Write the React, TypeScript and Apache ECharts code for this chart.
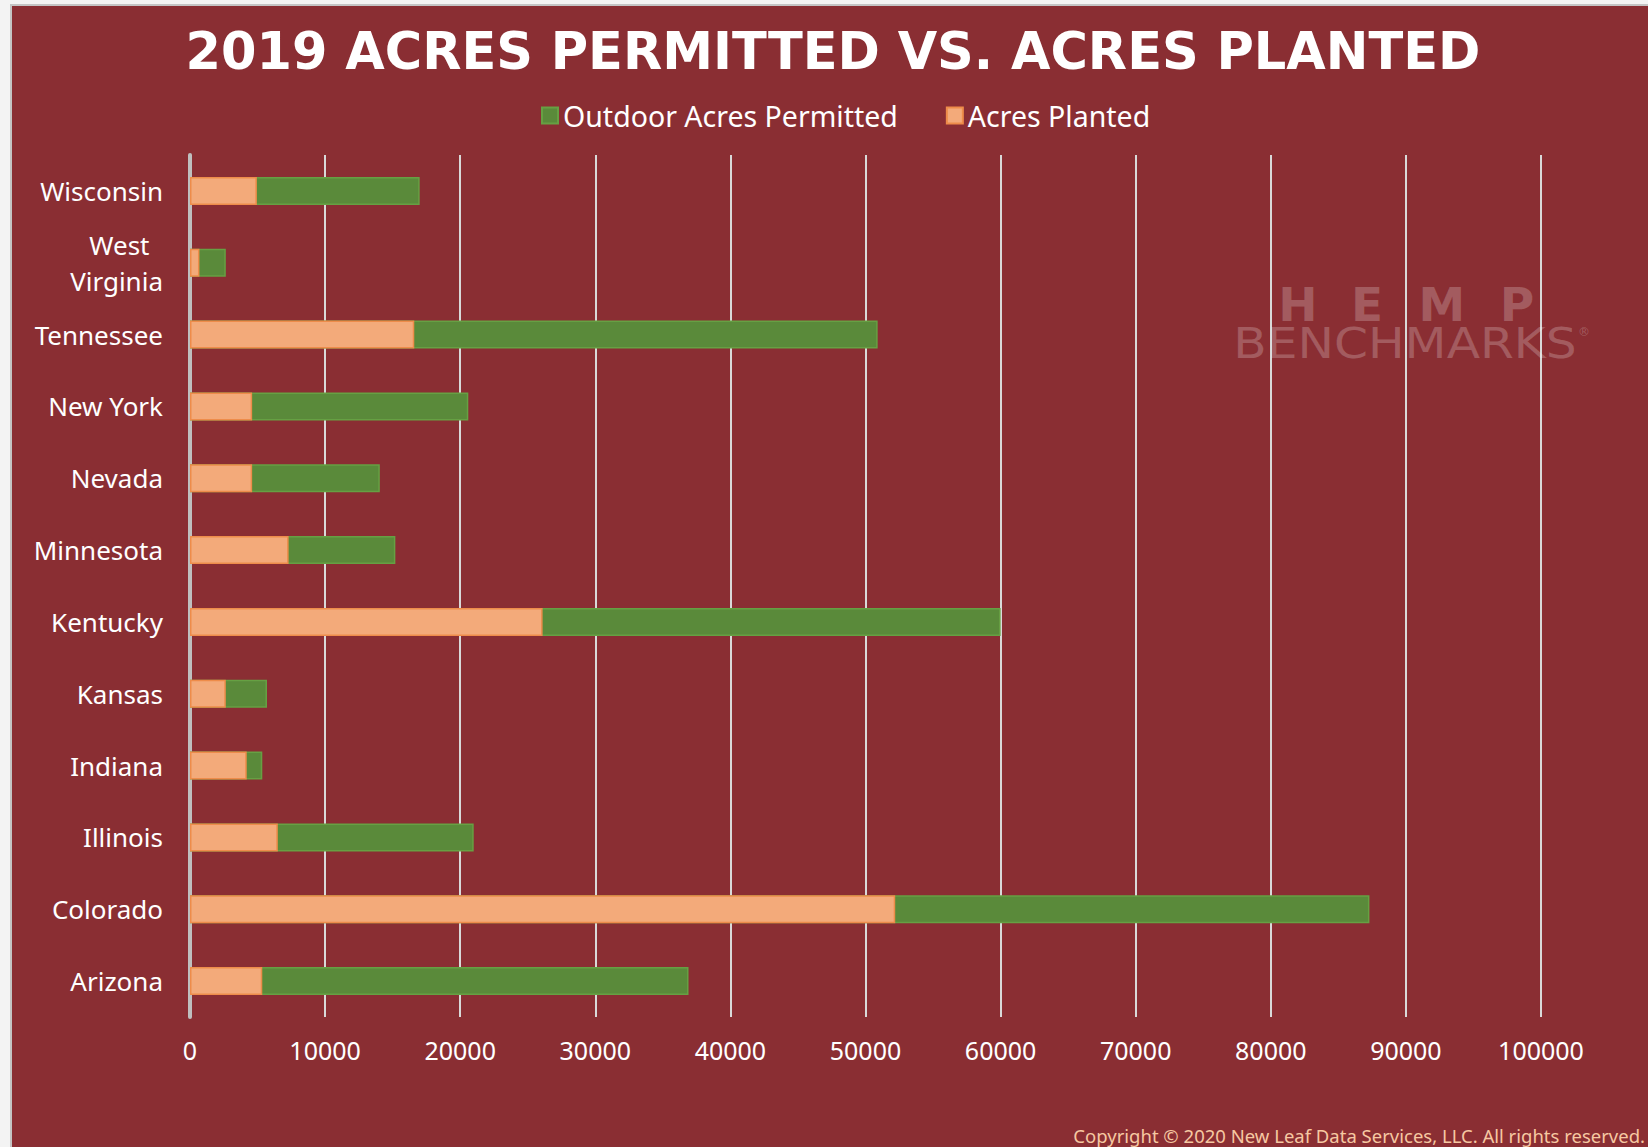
import React, { useEffect, useRef } from "react";
import * as echarts from "echarts";

const categories = [
  "Wisconsin",
  "West Virginia",
  "Tennessee",
  "New York",
  "Nevada",
  "Minnesota",
  "Kentucky",
  "Kansas",
  "Indiana",
  "Illinois",
  "Colorado",
  "Arizona",
];
const acresPermitted = [17000, 2650, 50900, 20600, 14050, 15200, 60000, 5700, 5350, 21000, 87300, 36900];
const acresPlanted = [4950, 700, 16600, 4600, 4600, 7300, 26100, 2650, 4200, 6500, 52200, 5350];
const seriesNames = ["Outdoor Acres Permitted", "Acres Planted"];
const xMin = 0;
const xMax = 100000;
const xInterval = 10000;

const BG = "#8A2E33";
const GREEN = "#5A8A3A";
const ORANGE = "#F3AA7A";
const WM = "rgba(255,255,255,0.22)";

export default function App() {
  const ref = useRef<HTMLDivElement>(null);

  useEffect(() => {
    document.body.style.margin = "0";
    if (!ref.current) return;
    const chart = echarts.init(ref.current, null, { renderer: "svg" });
    const option = {
      animation: false,
      backgroundColor: "#f3f3f3",
      graphic: [
        {
          type: "rect",
          z: -10,
          silent: true,
          shape: { x: 11, y: 5, width: 1700, height: 1200 },
          style: { fill: BG, stroke: "#c4c4c4", lineWidth: 2 },
        },
        {
          type: "text",
          x: 833,
          y: 51,
          style: {
            text: "2019 ACRES PERMITTED VS. ACRES PLANTED",
            fontFamily: "DejaVu Sans",
            fontWeight: "bold",
            fontSize: 51,
            fill: "#ffffff",
            textAlign: "center",
            textVerticalAlign: "middle",
          },
        },
        ...[
          ["H", 1298],
          ["E", 1367],
          ["M", 1442],
          ["P", 1517],
        ].map(([t, x]) => ({
          type: "text",
          x: x as number,
          y: 304,
          z: 10,
          silent: true,
          style: {
            text: t as string,
            fontFamily: "DejaVu Sans",
            fontWeight: "bold",
            fontSize: 47,
            lineHeight: 36,
            fill: WM,
            textAlign: "center",
            textVerticalAlign: "middle",
          },
        })),
        {
          type: "text",
          x: 1405,
          y: 344,
          scaleX: 1.16,
          z: 10,
          silent: true,
          style: {
            text: "BENCHMARKS",
            fontFamily: "DejaVu Sans",
            fontSize: 42,
            lineHeight: 30,
            fill: WM,
            textAlign: "center",
            textVerticalAlign: "middle",
          },
        },
        {
          type: "text",
          x: 1584,
          y: 332,
          z: 10,
          silent: true,
          style: {
            text: "®",
            fontFamily: "DejaVu Sans",
            fontSize: 12,
            fill: WM,
            textAlign: "center",
            textVerticalAlign: "middle",
          },
        },
        {
          type: "text",
          x: 1645,
          y: 1135,
          style: {
            text: "Copyright © 2020 New Leaf Data Services, LLC. All rights reserved.",
            fontFamily: "Noto Sans",
            fontSize: 18.5,
            fill: "#F6C8A2",
            textAlign: "right",
            textVerticalAlign: "middle",
          },
        },
      ],
      legend: {
        data: seriesNames,
        left: 536,
        top: 96,
        itemWidth: 16,
        itemHeight: 16,
        itemGap: 48,
        icon: "rect",
        textStyle: { color: "#ffffff", fontFamily: "Noto Sans", fontSize: 28.5 },
      },
      grid: { left: 190, right: 107, top: 155, bottom: 130, containLabel: false },
      xAxis: {
        type: "value",
        min: xMin,
        max: xMax,
        interval: xInterval,
        axisLine: { show: false },
        axisTick: { show: false },
        axisLabel: {
          color: "#ffffff",
          fontFamily: "Noto Sans",
          fontSize: 25,
          margin: 20,
          formatter: (v: number) => String(v),
        },
        splitLine: { show: true, lineStyle: { color: "#d9d9d9", width: 2 } },
      },
      yAxis: {
        type: "category",
        data: categories,
        inverse: true,
        axisLine: { show: true, lineStyle: { color: "#bfbfbf", width: 4 } },
        axisTick: { show: false },
        axisLabel: {
          color: "#ffffff",
          fontFamily: "Noto Sans",
          fontSize: 26,
          margin: 27,
          lineHeight: 36,
          formatter: (v: string) => (v === "West Virginia" ? "West  \nVirginia" : v),
        },
        splitLine: { show: false },
      },
      series: [
        {
          name: seriesNames[0],
          type: "bar",
          data: acresPermitted,
          barWidth: 28,
          barGap: "-100%",
          itemStyle: { color: GREEN, borderColor: "#66A043", borderWidth: 1.5 },
        },
        {
          name: seriesNames[1],
          type: "bar",
          data: acresPlanted,
          barWidth: 28,
          barGap: "-100%",
          itemStyle: { color: ORANGE, borderColor: "#EE8C4A", borderWidth: 1.5 },
        },
      ],
    };
    chart.setOption(option as any);
    return () => chart.dispose();
  }, []);

  return <div ref={ref} style={{ width: 1648, height: 1147 }} />;
}
